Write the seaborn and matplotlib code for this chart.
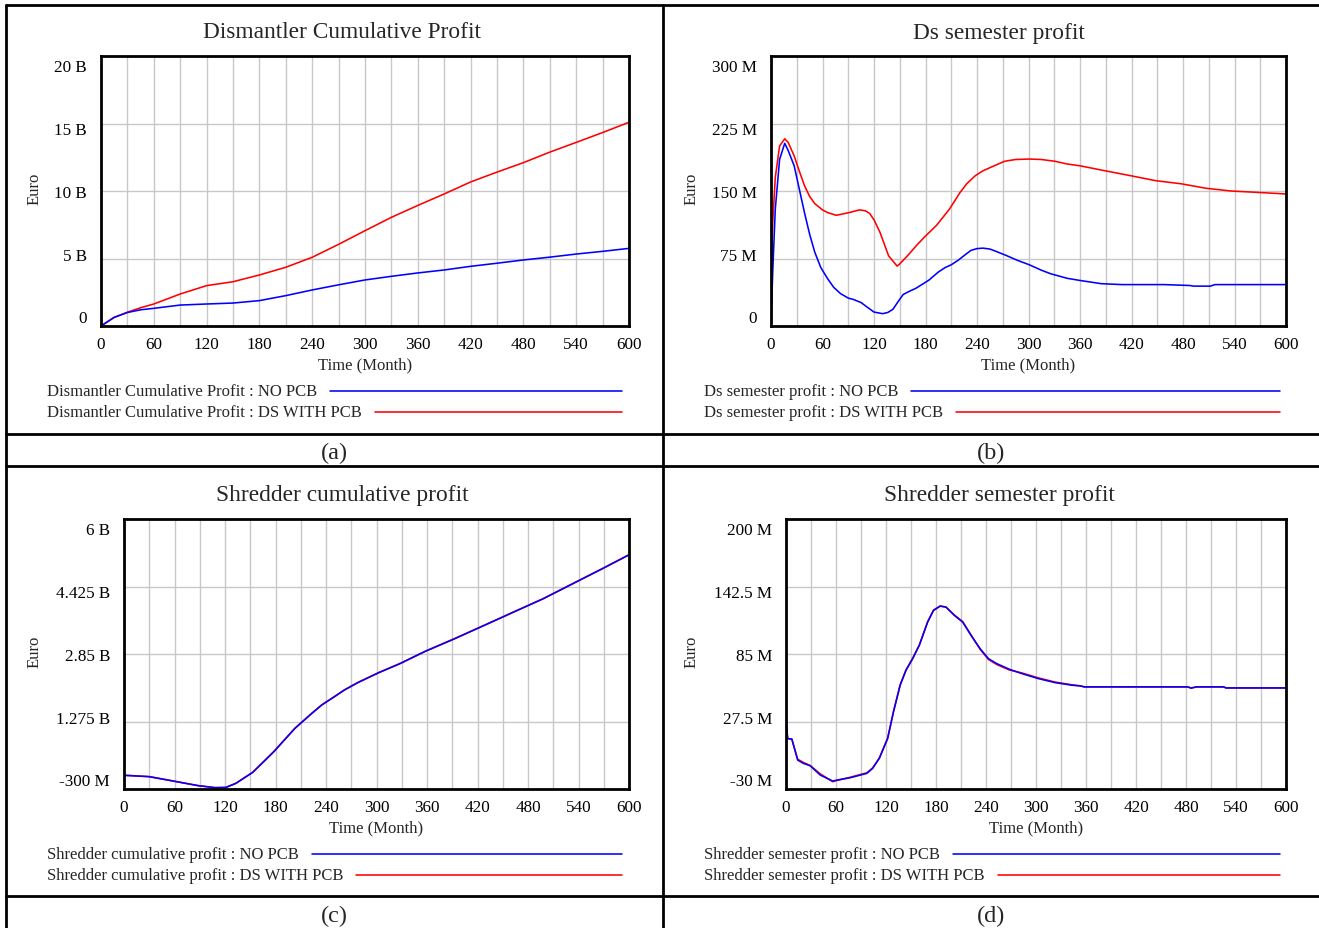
import matplotlib
matplotlib.use('Agg')
import matplotlib.pyplot as plt
import matplotlib.transforms as mtransforms
from matplotlib.lines import Line2D
import seaborn as sns

W, H = 1319, 929

# (a) Dismantler cumulative profit, billion euro
t_a = [0, 15, 30, 45, 60, 90, 120, 150, 180, 210, 240, 270, 300, 330, 360, 390, 420, 450, 480, 510, 540, 570, 600]
a_no_pcb = [0, 0.64, 1.0, 1.2, 1.31, 1.55, 1.63, 1.70, 1.88, 2.25, 2.67, 3.05, 3.41, 3.68, 3.93, 4.15, 4.42, 4.65, 4.89, 5.1, 5.33, 5.53, 5.75]
a_ds_pcb = [0, 0.64, 1.02, 1.35, 1.63, 2.37, 2.99, 3.28, 3.78, 4.35, 5.09, 6.05, 7.06, 8.05, 8.93, 9.78, 10.67, 11.4, 12.1, 12.88, 13.6, 14.33, 15.09]

# (b) Ds semester profit, million euro
t_b_ds = [0, 2, 5, 10, 16, 20, 27, 33, 39, 45, 51, 60, 66, 76, 91, 103, 110, 115, 120, 127, 137, 147, 150, 159, 170, 179,
          193, 208, 220, 228, 238, 247, 260, 272, 285, 301, 315, 331, 345, 360, 389, 419, 448, 478, 507, 536, 566, 600]
b_ds_pcb = [50, 115, 165, 200, 208, 204, 189, 172, 156, 144, 136, 129, 126, 123, 126, 129, 128, 125, 118, 104, 78, 66.5, 69,
            78, 90, 99, 112, 130, 148, 158, 167, 172.5, 178, 183, 185, 185.5, 185, 183, 180, 178, 172.5, 167, 161.5, 158,
            153, 150, 148.5, 146.7]
t_b_no = [0, 2, 5, 10, 16, 20, 27, 33, 39, 45, 51, 58, 66, 73, 81, 90, 96, 105, 112, 120, 130, 136, 142, 148, 154, 160,
          169, 184, 195, 203, 210, 218, 226, 233, 240, 247, 255, 262, 275, 287, 301, 315, 326, 345, 360, 385, 409, 458,
          488, 492, 512, 517, 600]
b_no_pcb = [0, 60, 130, 185, 203, 195, 178, 152, 126, 102, 82, 65, 52.5, 43, 36, 31, 29.5, 26, 21, 15.5, 13.7, 15, 18.5,
            27, 35, 38, 42, 51, 60, 65, 68, 73, 79, 84, 86, 86.5, 85.5, 83, 78, 73, 68, 62, 58, 53, 50.6, 47, 46, 46,
            45, 44.3, 44.3, 46, 46]

# (c) Shredder cumulative profit, billion euro
t_c = [0, 30, 58, 88, 108, 121, 133, 153, 178, 203, 223, 235, 248, 262, 278, 303, 328, 358, 393, 428, 463, 498, 533, 568, 600]
c_no_pcb = [0.02, -0.013, -0.114, -0.222, -0.269, -0.265, -0.168, 0.088, 0.569, 1.112, 1.461, 1.66, 1.826, 2.01, 2.183,
            2.416, 2.625, 2.912, 3.207, 3.517, 3.828, 4.138, 4.487, 4.836, 5.162]
c_ds_pcb = [0.02, -0.010, -0.110, -0.220, -0.268, -0.262, -0.165, 0.092, 0.575, 1.118, 1.466, 1.665, 1.832, 2.015, 2.188,
            2.421, 2.630, 2.916, 3.212, 3.521, 3.833, 4.142, 4.492, 4.840, 5.168]

# (d) Shredder semester profit, million euro
t_d = [0, 2, 7, 14, 21, 29, 41, 56, 61, 77, 97, 104, 112, 122, 129, 137, 144, 152, 160, 170, 177, 185, 192, 202, 212,
       222, 233, 243, 253, 268, 283, 303, 323, 343, 353, 358, 404, 482, 486, 493, 525, 528, 600]
d_no_pcb = [27.2, 13, 12.5, -5.4, -8.2, -10.2, -18.1, -23.2, -22.4, -20.4, -16.7, -12.4, -3.9, 13, 35.7, 58.4, 71.1, 81,
            92.4, 112.2, 122.1, 125.8, 124.9, 117.9, 112.2, 100.9, 89.5, 81, 76.8, 72, 68.3, 64, 60.6, 58.4, 57.8, 57,
            57, 57, 56, 57, 57, 56.1, 56.1]
d_ds_pcb = [27.2, 13, 12.5, -4.6, -7.4, -10.0, -17.0, -23.8, -22.8, -20.0, -16.2, -12.0, -3.5, 13.5, 36.2, 58.9, 71.5,
            81.4, 92.8, 112.6, 122.4, 125.9, 125.0, 118.2, 112.6, 101.3, 88.9, 80.3, 76.0, 71.4, 68.9, 64.6, 61.1,
            58.8, 57.9, 57, 57, 57, 56, 57, 57, 56.1, 56.1]

x_ticks = list(range(0, 601, 60))
yt_a = [0, 5, 10, 15, 20]
yl_a = ['0', '5 B', '10 B', '15 B', '20 B']
yt_b = [0, 75, 150, 225, 300]
yl_b = ['0', '75 M', '150 M', '225 M', '300 M']
yt_c = [-0.3, 1.275, 2.85, 4.425, 6.0]
yl_c = ['-300 M', '1.275 B', '2.85 B', '4.425 B', '6 B']
yt_d = [-30, 27.5, 85, 142.5, 200]
yl_d = ['-30 M', '27.5 M', '85 M', '142.5 M', '200 M']

sns.set_style('white')
plt.rcParams['font.family'] = ['Liberation Serif', 'DejaVu Serif']

fig = plt.figure(figsize=(W / 100, H / 100), dpi=100)


def fx(x):
    return x / W


def fy(y):
    return 1 - y / H


def make_axes(l, t, r, b):
    return fig.add_axes([fx(l), fy(b), (r - l) / W, (b - t) / H])


def panel(box, title, title_x, dy, series, yt, yl, leg_names):
    l, t, r, b = box
    ax = make_axes(l, t, r, b)
    for tt, vals, col in series:
        sns.lineplot(x=tt, y=vals, ax=ax, color=col, lw=1.15)
    ax.set_xlim(0, 600)
    ax.set_ylim(yt[0], yt[-1])
    ax.set_xticks(x_ticks)
    ax.set_xticks(list(range(30, 600, 60)), minor=True)
    ax.set_yticks(yt)
    ax.set_yticklabels(yl)
    ax.tick_params(length=0, which='both', labelsize=12.3, colors='black')
    ax.tick_params(axis='y', pad=10)
    ax.tick_params(axis='x', pad=7)
    ax.grid(True, which='both', axis='x', color='#c8c8c8', lw=1)
    ax.grid(True, which='major', axis='y', color='#c8c8c8', lw=1)
    for s in ax.spines.values():
        s.set_color('black')
        s.set_linewidth(2)
    # labels spread inside the axis range, as in the original tool
    labs = ax.get_yticklabels()
    n = len(labs)
    for i, lab in enumerate(labs):
        off = 9.5 * (1 - 2 * i / (n - 1))
        lab.set_transform(lab.get_transform() + mtransforms.ScaledTranslation(0, off / 100, fig.dpi_scale_trans))
    ax.set_xlabel('')
    ax.set_ylabel('')
    fig.text(fx((l + r) / 2), fy(b + 38), 'Time (Month)', ha='center', va='center', fontsize=12)
    fig.text(fx(title_x), fy(33 + dy), title, ha='center', va='center', fontsize=16.8)
    ex = 35 if l < 600 else 692
    fig.text(fx(ex), fy((t + b) / 2 - 3), 'Euro', rotation=90, ha='center', va='center', fontsize=12)
    # legend rows
    lx = 47 if l < 600 else 704
    lend = 622 if l < 600 else 1280
    for k, (name, col) in enumerate(leg_names):
        yy = 392 + dy + 21 * k
        txt = fig.text(fx(lx), fy(yy), name, ha='left', va='center', fontsize=12)
        fig.canvas.draw()
        bb = txt.get_window_extent(fig.canvas.get_renderer())
        fig.add_artist(Line2D([fx(bb.x1 + 13), fx(lend)], [fy(yy), fy(yy)], color=col, lw=1.15))
    return ax


panel((101, 57, 629, 327), 'Dismantler Cumulative Profit', 342, 0,
      [(t_a, a_ds_pcb, 'red'), (t_a, a_no_pcb, 'blue')], yt_a, yl_a,
      [('Dismantler Cumulative Profit : NO PCB', 'blue'), ('Dismantler Cumulative Profit : DS WITH PCB', 'red')])
panel((771, 57, 1286, 327), 'Ds semester profit', 999, 0,
      [(t_b_ds, b_ds_pcb, 'red'), (t_b_no, b_no_pcb, 'blue')], yt_b, yl_b,
      [('Ds semester profit : NO PCB', 'blue'), ('Ds semester profit : DS WITH PCB', 'red')])
panel((124, 520, 629, 790), 'Shredder cumulative profit', 342, 463,
      [(t_c, c_ds_pcb, 'red'), (t_c, c_no_pcb, 'blue')], yt_c, yl_c,
      [('Shredder cumulative profit : NO PCB', 'blue'), ('Shredder cumulative profit : DS WITH PCB', 'red')])
panel((786, 520, 1286, 790), 'Shredder semester profit', 999, 463,
      [(t_d, d_ds_pcb, 'red'), (t_d, d_no_pcb, 'blue')], yt_d, yl_d,
      [('Shredder semester profit : NO PCB', 'blue'), ('Shredder semester profit : DS WITH PCB', 'red')])

for cap, cx, cy in [('(a)', 334, 453), ('(b)', 991, 453), ('(c)', 334, 916), ('(d)', 991, 916)]:
    fig.text(fx(cx), fy(cy), cap, ha='center', va='center', fontsize=17.5)

# table borders
for y in [6, 435, 467, 897]:
    fig.add_artist(Line2D([fx(6), fx(1319)], [fy(y), fy(y)], color='black', lw=2))
for x in [6, 663]:
    fig.add_artist(Line2D([fx(x), fx(x)], [fy(6), fy(929)], color='black', lw=2))

fig.savefig('out.png', dpi=100, facecolor='white')
